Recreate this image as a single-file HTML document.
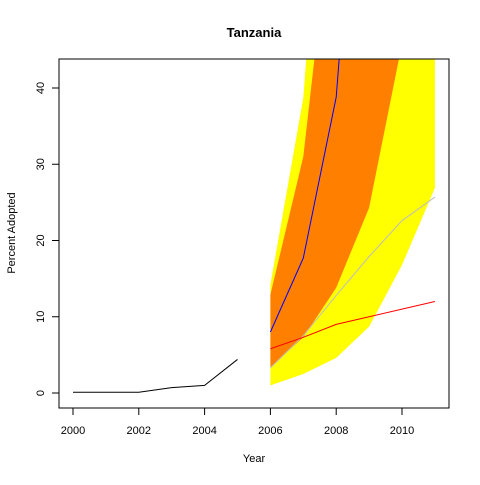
<!DOCTYPE html>
<html><head><meta charset="utf-8"><style>
body{margin:0;background:#fff}
svg text{font-family:"Liberation Sans",sans-serif;font-size:11px}
</style></head><body>
<svg id="c" width="480" height="480" xmlns="http://www.w3.org/2000/svg"></svg>
<script>
const years=[2000,2001,2002,2003,2004,2005,2006,2007,2008,2009,2010,2011];
const observed=[0.1,0.1,0.1,0.7,1.0,4.4];
const fYears=[2006,2007,2008,2009,2010,2011];
const outerLow=[1.0,2.5,4.6,8.7,16.8,26.9];
const outerHigh=[14.2,38.7,95,300,500,600];
const innerLow=[3.4,7.3,13.8,24.3,45.8,80];
const innerHigh=[12.9,31,69,200,300,400];
const blueSeries=[8.0,17.7,38.8,94,150,200];
const greySeries=[3.3,7.5,12.8,17.9,22.6,25.7];
const redSeries=[5.8,7.3,9.0,10.0,11.0,12.0];
const xTicks=[2000,2002,2004,2006,2008,2010];
const yTicks=[0,10,20,30,40];
const X=v=>73+(v-2000)*32.9, Y=v=>393-v*7.625;
const s=document.getElementById('c'),NS='http://www.w3.org/2000/svg';
function el(t,a,p){const e=document.createElementNS(NS,t);for(const k in a)e.setAttribute(k,a[k]);(p||s).appendChild(e);return e;}
const defs=el('defs',{});const cp=el('clipPath',{id:'cp'},defs);el('rect',{x:59,y:59,width:390,height:349},cp);
const g=el('g',{'clip-path':'url(#cp)'});
function band(lo,hi,col,name){const pts=fYears.map((y,i)=>X(y)+','+Y(hi[i])).concat(fYears.map((y,i)=>X(y)+','+Y(lo[i])).reverse());const p=el('polygon',{points:pts.join(' '),fill:col},g);

}
band(outerLow,outerHigh,'#ffff00','outer-band');
band(innerLow,innerHigh,'#ff8000','inner-band');
function line(xs,ys,col,name){const p=el('polyline',{points:xs.map((x,i)=>X(x)+','+Y(ys[i])).join(' '),fill:'none',stroke:col,'stroke-width':1},g);

}
line(years.slice(0,6),observed,'#000','observed-line');
line(fYears,blueSeries,'#0000ff','blue-line');
line(fYears,greySeries,'#bebebe','grey-line');
line(fYears,redSeries,'#ff0000','red-line');
const b=el('rect',{x:59,y:59,width:390,height:349,fill:'none',stroke:'#000'});

xTicks.forEach(t=>{el('line',{x1:X(t),x2:X(t),y1:408,y2:415,stroke:'#000'});const tx=el('text',{x:X(t),y:434,'text-anchor':'middle'});tx.textContent=t;

});
yTicks.forEach(t=>{el('line',{x1:52,x2:59,y1:Y(t),y2:Y(t),stroke:'#000'});const tx=el('text',{x:0,y:0,'text-anchor':'middle',transform:`translate(44,${Y(t)}) rotate(-90)`});tx.textContent=t;

});
</script>
<div style="position:absolute;left:0;top:0;width:480px;height:480px;pointer-events:none">
<svg width="480" height="480" xmlns="http://www.w3.org/2000/svg">
<text x="254" y="37" text-anchor="middle" style="font-family:'Liberation Sans',sans-serif;font-size:13px;font-weight:bold">Tanzania</text>
<text x="254" y="462" text-anchor="middle" style="font-family:'Liberation Sans',sans-serif;font-size:11px">Year</text>
<text transform="translate(15,233) rotate(-90)" text-anchor="middle" style="font-family:'Liberation Sans',sans-serif;font-size:11px">Percent Adopted</text>
</svg></div>
</body></html>
